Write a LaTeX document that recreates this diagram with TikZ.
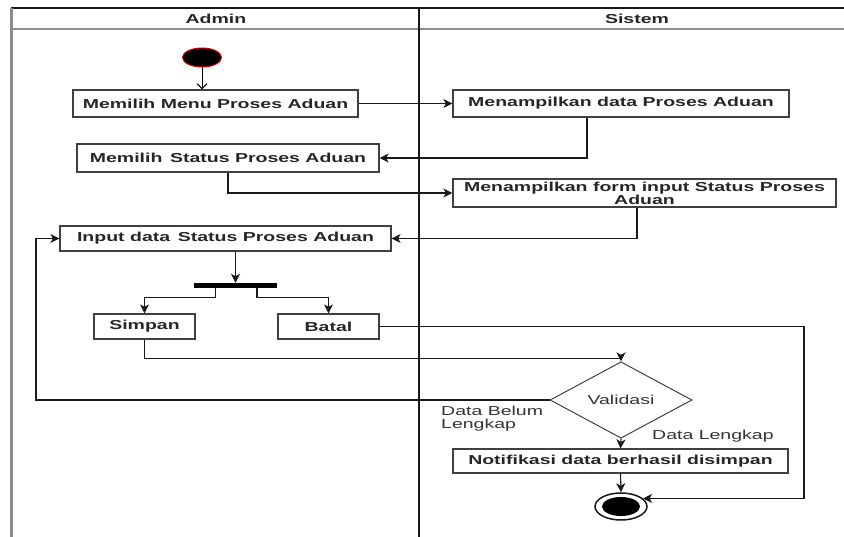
\documentclass[tikz,border=0pt]{standalone}
\usepackage{fontspec}
\setmainfont{Liberation Sans}[FakeStretch=1.5]
\usetikzlibrary{arrows.meta,shapes.geometric}

\tikzset{
    activity/.style={draw=black!75, line width=1.2pt, rectangle, inner sep=2pt,
        text=black!85, font=\fontsize{13pt}{13pt}\selectfont\bfseries},
    flow/.style={draw=black!90, line width=1.1pt, -{Stealth[length=9pt,width=9pt,inset=2.5pt]}},
    lane/.style={line width=1.2pt},
    guard/.style={inner sep=0pt, text=black!80, align=left,
        font=\fontsize{13pt}{13pt}\selectfont}
}

\begin{document}
\begin{tikzpicture}[x=1pt, y=-1pt]
    \useasboundingbox (0,0) rectangle (844,537);

    % swimlanes
    \draw[lane, black!90] (11,8) -- (844,8);
    \draw[lane, black!45, line width=2pt] (11,29) -- (844,29);
    \draw[lane, black!45, line width=3pt] (11,8) -- (11,537);
    \draw[lane, black!90] (419,8) -- (419,537);
    \node[activity, draw=none] (admin) at (216,19) {Admin};
    \node[activity, draw=none] (sistem) at (637,19) {Sistem};

    % start and end
    \node[ellipse, draw=red!80!black, fill=black, line width=1pt,
        minimum width=39pt, minimum height=19pt, inner sep=0pt] (start) at (202,57.5) {};
    \node[ellipse, draw=black!90, line width=1.5pt, fill=white,
        minimum width=52pt, minimum height=27pt, inner sep=0pt,
        path picture={\fill[black] (path picture bounding box.center) ellipse (19pt and 9.5pt);}]
        (end) at (621,506.5) {};

    % Admin activities
    \node[activity, minimum width=285pt, minimum height=27pt] (menu) at (215.5,103.5) {Memilih Menu Proses Aduan};
    \node[activity, minimum width=302pt, minimum height=28pt] (status) at (228,158) {Memilih\ \,Status Proses Aduan};
    \node[activity, minimum width=331pt, minimum height=25pt] (input) at (225.5,238.5) {Input data\ \,Status Proses Aduan};
    \node[fill=black, minimum width=83pt, minimum height=5pt, inner sep=0pt] (bar) at (235.5,285.5) {};
    \node[activity, minimum width=101pt, minimum height=25pt] (simpan) at (144.5,326.5) {Simpan};
    \node[activity, minimum width=101pt, minimum height=25pt] (batal) at (328.5,326.5) {Batal};

    % Sistem activities
    \node[activity, minimum width=383pt, minimum height=28pt, align=center] (form) at (644.5,193) {Menampilkan form input Status Proses\\Aduan};
    \node[activity, minimum width=336pt, minimum height=27pt] (data) at (621,103.5) {Menampilkan data Proses Aduan};
    \node[diamond, draw=black!75, line width=1pt, minimum width=142pt, minimum height=46pt,
        inner sep=0pt, text=black!80, font=\fontsize{13pt}{13pt}\selectfont] (valid) at (621,400) {Validasi};
    \node[activity, minimum width=335pt, minimum height=24pt] (notif) at (620.5,461) {Notifikasi data berhasil disimpan};

    % guards
    \node[guard, anchor=west] (belum) at (441,418.5) {Data Belum\\Lengkap};
    \node[guard, anchor=west] (lengkap) at (652,436) {Data Lengkap};

    \coordinate (leftturn) at (36,0);
    \coordinate (rightturn) at (804,0);

    % flows
    \draw[line width=1pt, -{Straight Barb[length=5pt,width=10pt]}] (start.south) -- (start.south |- menu.north);
    \draw[flow] (menu) -- (data);
    \draw[flow] ([xshift=-34pt]data.south) |- (status.east);
    \draw[flow] (status.south) |- (form.west);
    \draw[flow] ([xshift=-7.5pt]form.south) |- (input.east);
    \draw[flow] (input.south -| bar.north) -- (bar.north);
    \draw[flow] ([xshift=-20pt]bar.south) -- ++(0,9) -| (simpan.north);
    \draw[flow] ([xshift=21.5pt]bar.south) -- ++(0,9) -| (batal.north);
    \draw[flow] (simpan.south) -- ++(0,19) -| (valid.north);
    \draw[flow] (batal.east) -| (rightturn |- end.20) -- (end.20);
    \draw[flow] (valid.west) -| (leftturn |- input.west) -- (input.west);
    \draw[flow] (valid.south) -- (notif.north);
    \draw[flow] (notif.south) -- (end.north);
\end{tikzpicture}
\end{document}
